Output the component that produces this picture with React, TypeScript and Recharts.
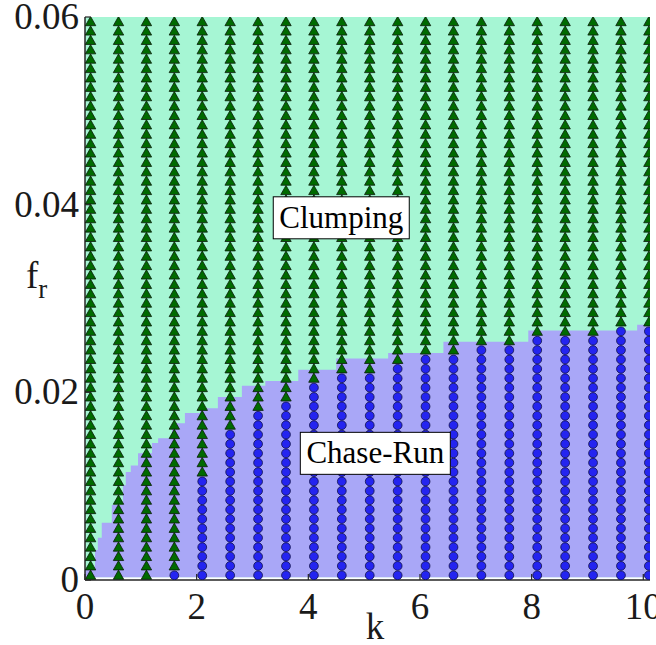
import { Area, ComposedChart, ReferenceDot, Scatter, XAxis, YAxis } from 'recharts';

// sampled parameter grid
const kColumns = [0.1, 0.6, 1.1, 1.6, 2.1, 2.6, 3.1, 3.6, 4.1, 4.6, 5.1, 5.6, 6.1, 6.6, 7.1, 7.6, 8.1, 8.6, 9.1, 9.6, 10.1];
const frRows = [
  0.0005, 0.0015, 0.0025, 0.0035, 0.0045, 0.0055, 0.0065, 0.0075, 0.0085, 0.0095,
  0.0105, 0.0115, 0.0125, 0.0135, 0.0145, 0.0155, 0.0165, 0.0175, 0.0185, 0.0195,
  0.0205, 0.0215, 0.0225, 0.0235, 0.0245, 0.0255, 0.0265, 0.0275, 0.0285, 0.0295,
  0.0305, 0.0315, 0.0325, 0.0335, 0.0345, 0.0355, 0.0365, 0.0375, 0.0385, 0.0395,
  0.0405, 0.0415, 0.0425, 0.0435, 0.0445, 0.0455, 0.0465, 0.0475, 0.0485, 0.0495,
  0.0505, 0.0515, 0.0525, 0.0535, 0.0545, 0.0555, 0.0565, 0.0575, 0.0585, 0.0595,
];
// how many rows (from the bottom) of each column end up in chase-run
const chaseRunRows = [0, 0, 0, 1, 11, 16, 18, 19, 21, 22, 22, 23, 24, 24, 25, 25, 26, 26, 26, 27, 27];

// phase boundary of the shaded background (step starts)
const boundaryK = [0, 0.18, 0.23, 0.3, 0.48, 0.68, 0.73, 0.82, 0.95, 1.2, 1.31, 1.56, 1.79, 2.06, 2.38, 2.81, 3.23, 3.82, 4.5, 5.43, 6.42, 7.94, 9.89, 10.12];
const boundaryFr = [0.0011, 0.0032, 0.0045, 0.0061, 0.008, 0.0101, 0.0115, 0.0122, 0.0135, 0.0146, 0.0151, 0.0167, 0.0178, 0.0183, 0.0195, 0.0207, 0.0212, 0.0224, 0.0236, 0.0242, 0.0254, 0.0266, 0.0272, 0.0272];

const xTicks = [0, 2, 4, 6, 8, 10];
const yTicks = [0, 0.02, 0.04, 0.06];
const xDomain = [0, 10.12];
const yDomain = [0, 0.06];
const bgBase = 0.0003;

const clumping: { k: number; fr: number }[] = [];
const chaseRun: { k: number; fr: number }[] = [];
kColumns.forEach((k, i) => {
  frRows.forEach((fr, j) => {
    if (j < chaseRunRows[i]) chaseRun.push({ k, fr });
    else clumping.push({ k, fr });
  });
});
const background = boundaryK.map((k, i) => ({ k, fr: boundaryFr[i], top: yDomain[1] }));

const AXIS = '#262626';
const FONT = '"Liberation Serif", "Times New Roman", serif';
const TICK_SIZE = 37;

const Triangle = (p: any) => (
  <polygon
    points={`${p.cx - 5.2},${p.cy + 4} ${p.cx + 5.2},${p.cy + 4} ${p.cx},${p.cy - 5.2}`}
    fill="#006a00"
    stroke="#0a1a0a"
    strokeWidth={0.8}
  />
);
const Dot = (p: any) => <circle cx={p.cx} cy={p.cy} r={4.4} fill="#2424f0" stroke="#10104a" strokeWidth={0.8} />;

const BottomTick = ({ x, y, payload }: any) => (
  <g>
    <line x1={x} y1={y} x2={x} y2={y - 6} stroke={AXIS} strokeWidth={1.2} />
    <text x={x} y={y + 39} textAnchor="middle" fontFamily={FONT} fontSize={TICK_SIZE} fill="#1a1a1a">
      {payload.value}
    </text>
  </g>
);
const TopTick = ({ x, y }: any) => <line x1={x} y1={y} x2={x} y2={y + 6} stroke={AXIS} strokeWidth={1.2} />;
const LeftTick = ({ x, y, payload }: any) => (
  <g>
    <line x1={x} y1={y} x2={x + 6} y2={y} stroke={AXIS} strokeWidth={1.2} />
    <text x={x - 6} y={y + 12} textAnchor="end" fontFamily={FONT} fontSize={TICK_SIZE} fill="#1a1a1a">
      {payload.value}
    </text>
  </g>
);
const RightTick = ({ x, y }: any) => <line x1={x} y1={y} x2={x - 6} y2={y} stroke={AXIS} strokeWidth={1.2} />;

const boxLabel = (text: string, w: number) => (p: any) => (
  <g>
    <rect x={p.cx - w / 2} y={p.cy - 21} width={w} height={42} fill="#fff" stroke="#000" strokeWidth={1} />
    <text x={p.cx} y={p.cy + 10} textAnchor="middle" fontFamily={FONT} fontSize={31} fill="#000">
      {text}
    </text>
  </g>
);

export default function App() {
  return (
    <div style={{ position: 'absolute', left: 0, top: 0, background: '#fff' }}>
      <ComposedChart width={656} height={645} data={background} margin={{ top: 17, right: 6, bottom: 25, left: 0 }}>
        <XAxis
          dataKey="k"
          type="number"
          domain={xDomain}
          ticks={xTicks}
          allowDataOverflow
          height={40}
          tickSize={0}
          tickMargin={0}
          tickLine={false}
          tick={<BottomTick />}
          axisLine={{ stroke: AXIS, strokeWidth: 1.5 }}
          label={{
            content: () => (
              <text x={375} y={639} textAnchor="middle" fontFamily={FONT} fontSize={TICK_SIZE} fill="#1a1a1a">
                k
              </text>
            ),
          }}
        />
        <XAxis
          xAxisId="top"
          orientation="top"
          type="number"
          domain={xDomain}
          ticks={xTicks}
          allowDataOverflow
          height={0}
          tickSize={0}
          tickMargin={0}
          tickLine={false}
          tick={<TopTick />}
          axisLine={{ stroke: AXIS, strokeWidth: 1.5 }}
        />
        <YAxis
          dataKey="fr"
          type="number"
          domain={yDomain}
          ticks={yTicks}
          allowDataOverflow
          width={85}
          tickSize={0}
          tickMargin={0}
          tickLine={false}
          tick={<LeftTick />}
          axisLine={{ stroke: AXIS, strokeWidth: 1.5 }}
          label={{
            content: () => (
              <text x={26} y={288} fontFamily={FONT} fontSize={TICK_SIZE} fill="#1a1a1a">
                f
                <tspan dx={0} dy={10} fontSize={27}>
                  r
                </tspan>
              </text>
            ),
          }}
        />
        <YAxis
          yAxisId="right"
          orientation="right"
          type="number"
          domain={yDomain}
          ticks={yTicks}
          allowDataOverflow
          width={0}
          tickSize={0}
          tickMargin={0}
          tickLine={false}
          tick={<RightTick />}
          axisLine={{ stroke: AXIS, strokeWidth: 1.5 }}
        />
        <Area dataKey="top" type="stepAfter" baseValue={bgBase} fill="#a6f6d4" fillOpacity={1} stroke="none" isAnimationActive={false} />
        <Area dataKey="fr" type="stepAfter" baseValue={bgBase} fill="#a9a7f7" fillOpacity={1} stroke="none" isAnimationActive={false} />
        <Scatter data={clumping} shape={Triangle} isAnimationActive={false} />
        <Scatter data={chaseRun} shape={Dot} isAnimationActive={false} />
        <ReferenceDot x={4.59} y={0.0386} ifOverflow="visible" zIndex={2000} shape={boxLabel('Clumping', 136)} />
        <ReferenceDot x={5.2} y={0.0135} ifOverflow="visible" zIndex={2000} shape={boxLabel('Chase-Run', 150)} />
      </ComposedChart>
    </div>
  );
}
